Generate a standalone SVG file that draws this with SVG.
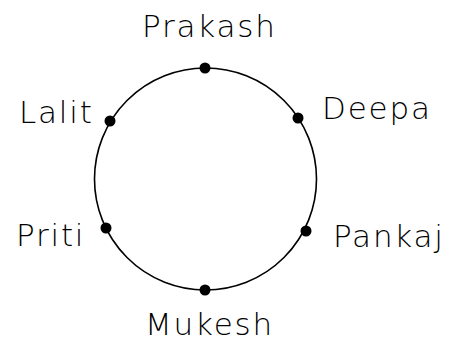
<svg xmlns="http://www.w3.org/2000/svg" width="454" height="343" viewBox="0 0 454 343">
<style>
text{font-family:"DejaVu Sans",Verdana,sans-serif;font-size:31px;font-weight:200;letter-spacing:1.8px;fill:#000}
.dot{fill:#000}
</style>
<rect width="454" height="343" fill="#fff"/>
<g id="connectors">
<circle cx="205.5" cy="179" r="111" fill="none" stroke="#000" stroke-width="1.6"/>
</g>
<g id="prakash"><circle class="dot" cx="205" cy="68" r="5.5"/><text x="142" y="37">Prakash</text></g>
<g id="deepa"><circle class="dot" cx="298" cy="118" r="5.5"/><text x="322" y="119">Deepa</text></g>
<g id="pankaj"><circle class="dot" cx="306" cy="231" r="5.5"/><text x="333" y="247">Pankaj</text></g>
<g id="mukesh"><circle class="dot" cx="205" cy="290" r="5.5"/><text x="145" y="335">Mukesh</text></g>
<g id="priti"><circle class="dot" cx="106" cy="228" r="5.5"/><text x="16" y="246">Priti</text></g>
<g id="lalit"><circle class="dot" cx="110" cy="121" r="5.5"/><text x="19" y="123">Lalit</text></g>
</svg>
